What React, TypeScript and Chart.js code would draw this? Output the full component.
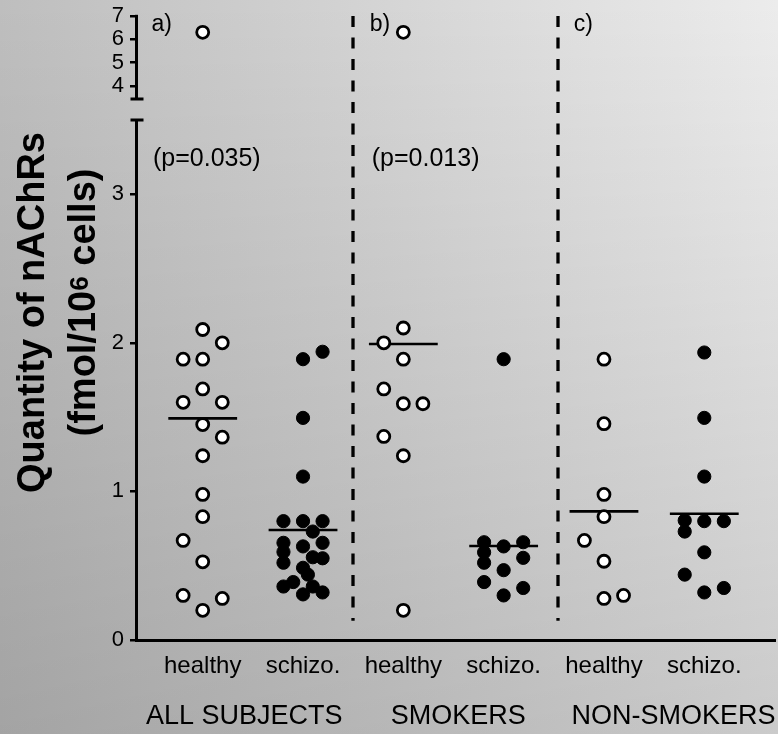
import React, { useEffect, useRef } from 'react';
import { Chart, registerables } from 'chart.js';

Chart.register(...registerables);

// ---------- data ----------
const categories = ['healthy', 'schizo.', 'healthy', 'schizo.', 'healthy', 'schizo.'];
const groupLabels = ['ALL SUBJECTS', 'SMOKERS', 'NON-SMOKERS'];
const groupTickValues = [0.415, 2.548, 4.693];
const lowerTicks = [0, 1, 2, 3];
const upperTicks = [4, 5, 6, 7];
const panelLabels = ['a)', 'b)', 'c)'];
const pValueLabels = ['(p=0.035)', '(p=0.013)'];
const titleLine1 = 'Quantity of nAChRs';
const titleLine2 = ['(fmol/10', '6', ' cells)'];

// values in fmol/10^6 cells; *Slot = jitter slot inside the column (-1 left, 0 centre, 1 right)
const healthyAll = [2.09, 2.0, 1.89, 1.89, 1.69, 1.6, 1.6, 1.45, 1.365, 1.24, 0.98, 0.83, 0.67, 0.526, 0.3, 0.28, 0.2];
const healthyAllSlot = [0, 1, -1, 0, 0, -1, 1, 0, 1, 0, 0, 0, -1, 0, -1, 1, 0];
const healthyAllHigh = [6.3];

const schizoAll = [1.89, 1.94, 1.495, 1.1, 0.8, 0.8, 0.8, 0.73, 0.654, 0.63, 0.654, 0.593, 0.557, 0.55, 0.52, 0.486, 0.44, 0.39, 0.36, 0.36, 0.32, 0.307];
const schizoAllSlot = [0, 1, 0, 0, -1, 0, 1, 0.5, -1, 0, 1, -1, 0.5, 1, -1, 0, 0.25, -0.5, -1, 0.5, 1, 0];

const healthySmokers = [2.1, 2.0, 1.89, 1.69, 1.59, 1.59, 1.37, 1.24, 0.2];
const healthySmokersSlot = [0, -1, 0, -1, 0, 1, -1, 0, 0];
const healthySmokersHigh = [6.3];

const schizoSmokers = [1.89, 0.658, 0.63, 0.658, 0.59, 0.553, 0.52, 0.47, 0.39, 0.35, 0.3];
const schizoSmokersSlot = [0, -1, 0, 1, -1, 1, -1, 0, -1, 1, 0];

const healthyNon = [1.89, 1.456, 0.98, 0.83, 0.67, 0.53, 0.3, 0.28];
const healthyNonSlot = [0, 0, 0, 0, -1, 0, 1, 0];

const schizoNon = [1.935, 1.495, 1.1, 0.805, 0.8, 0.8, 0.73, 0.59, 0.44, 0.35, 0.32];
const schizoNonSlot = [0, 0, 0, -1, 0, 1, -1, 0, -1, 1, 0];

const medians = [1.492, 0.74, 1.992, 0.633, 0.866, 0.85];

// ---------- layout / style constants ----------
const FONT = "'Liberation Sans', Arial, Helvetica, sans-serif";
const X_MIN = -0.665;
const X_MAX = 5.705;
const SLOT = 0.195;
const MEDIAN_HALF = 0.343;
const LOWER_MAX = 3.5;
const UPPER_MIN = 2.543;
const UPPER_BREAK = 3.44;
const UPPER_MAX = 7;
const SEPARATORS = [1.497, 3.54];
const SEPARATOR_BOTTOM = 0.13;
const PANEL_LABEL_X = [-0.511, 1.665, 3.7];
const PANEL_LABEL_Y = 6.61;
const PVALUE_X = [-0.496, 1.685];
const PVALUE_Y = 3.24;

type Col = { values: number[]; slots: number[]; high?: number[]; filled: boolean };
const columns: Col[] = [
  { values: healthyAll, slots: healthyAllSlot, high: healthyAllHigh, filled: false },
  { values: schizoAll, slots: schizoAllSlot, filled: true },
  { values: healthySmokers, slots: healthySmokersSlot, high: healthySmokersHigh, filled: false },
  { values: schizoSmokers, slots: schizoSmokersSlot, filled: true },
  { values: healthyNon, slots: healthyNonSlot, filled: false },
  { values: schizoNon, slots: schizoNonSlot, filled: true },
];

function pointStyle(filled: boolean) {
  return filled
    ? { backgroundColor: '#000', borderColor: '#000', borderWidth: 1, pointRadius: 6.6 }
    : { backgroundColor: '#fff', borderColor: '#000', borderWidth: 2.8, pointRadius: 6.0 };
}

function buildDatasets() {
  const ds: any[] = [];
  columns.forEach((c, i) => {
    ds.push({
      type: 'scatter',
      data: c.values.map((v, k) => ({ x: i + c.slots[k] * SLOT, y: v })),
      yAxisID: 'y',
      xAxisID: 'x',
      order: 0,
      ...pointStyle(c.filled),
    });
    if (c.high) {
      ds.push({
        type: 'scatter',
        data: c.high.map((v) => ({ x: i, y: v })),
        yAxisID: 'yTop',
        xAxisID: 'x',
        order: 0,
        ...pointStyle(c.filled),
      });
    }
  });
  medians.forEach((m, i) => {
    ds.push({
      type: 'scatter',
      showLine: true,
      data: [
        { x: i - MEDIAN_HALF, y: m },
        { x: i + MEDIAN_HALF, y: m },
      ],
      yAxisID: 'y',
      xAxisID: 'x',
      borderColor: '#000',
      borderWidth: 2.6,
      pointRadius: 0,
      order: 1,
    });
  });
  return ds;
}

const decorPlugin = {
  id: 'decor',
  beforeDatasetsDraw(chart: any) {
    const { ctx, chartArea, scales } = chart;
    ctx.save();
    ctx.strokeStyle = '#000';
    ctx.lineWidth = 3.3;
    ctx.setLineDash([11, 10.5]);
    for (const s of SEPARATORS) {
      const px = Math.round(scales.x.getPixelForValue(s));
      ctx.beginPath();
      ctx.moveTo(px, chartArea.top);
      ctx.lineTo(px, scales.y.getPixelForValue(SEPARATOR_BOTTOM));
      ctx.stroke();
    }
    ctx.restore();
  },
  afterDraw(chart: any) {
    const { ctx, chartArea, scales } = chart;
    const yTop = scales.yTop;
    const y = scales.y;
    const x = scales.x;
    ctx.save();
    // broken axis: upper segment + caps
    const ax = Math.round(chartArea.left - 1.5) + 1.5;
    ctx.strokeStyle = '#000';
    ctx.lineWidth = 3;
    ctx.lineCap = 'butt';
    const topPx = yTop.getPixelForValue(UPPER_MAX);
    const brkPx = yTop.getPixelForValue(UPPER_BREAK);
    ctx.beginPath();
    ctx.moveTo(ax, topPx - 1.2);
    ctx.lineTo(ax, brkPx);
    ctx.stroke();
    ctx.beginPath();
    ctx.moveTo(ax - 6, brkPx);
    ctx.lineTo(ax + 7, brkPx);
    const lowTop = y.getPixelForValue(LOWER_MAX);
    ctx.moveTo(ax - 6, lowTop);
    ctx.lineTo(ax + 7, lowTop);
    ctx.stroke();

    // panel labels and p-values
    ctx.fillStyle = '#000';
    ctx.textBaseline = 'middle';
    ctx.textAlign = 'left';
    ctx.font = `23px ${FONT}`;
    panelLabels.forEach((t, i) => {
      ctx.fillText(t, x.getPixelForValue(PANEL_LABEL_X[i]), yTop.getPixelForValue(PANEL_LABEL_Y));
    });
    ctx.font = `25px ${FONT}`;
    pValueLabels.forEach((t, i) => {
      ctx.fillText(t, x.getPixelForValue(PVALUE_X[i]), y.getPixelForValue(PVALUE_Y));
    });

    // y axis title (two rotated lines)
    ctx.textBaseline = 'alphabetic';
    ctx.font = `bold 38px ${FONT}`;
    ctx.save();
    ctx.translate(43.5, 312.5);
    ctx.rotate(-Math.PI / 2);
    ctx.textAlign = 'center';
    ctx.fillText(titleLine1, 0, 0);
    ctx.restore();

    ctx.save();
    ctx.translate(94.5, 302.5);
    ctx.rotate(-Math.PI / 2);
    ctx.textAlign = 'left';
    const mainFont = `bold 38px ${FONT}`;
    const supFont = `bold 26px ${FONT}`;
    ctx.font = mainFont;
    const w1 = ctx.measureText(titleLine2[0]).width;
    const w3 = ctx.measureText(titleLine2[2]).width;
    ctx.font = supFont;
    const w2 = ctx.measureText(titleLine2[1]).width;
    let cx = -(w1 + w2 + w3) / 2;
    ctx.font = mainFont;
    ctx.fillText(titleLine2[0], cx, 0);
    cx += w1;
    ctx.font = supFont;
    ctx.fillText(titleLine2[1], cx, -7);
    cx += w2;
    ctx.font = mainFont;
    ctx.fillText(titleLine2[2], cx, 0);
    ctx.restore();

    ctx.restore();
  },
};

function zeroPad(s: any) {
  s.paddingLeft = 0;
  s.paddingRight = 0;
  s.paddingTop = 0;
  s.paddingBottom = 0;
}

export default function App() {
  const ref = useRef<HTMLCanvasElement>(null);

  useEffect(() => {
    if (!ref.current) return;
    const chart = new Chart(ref.current, {
      type: 'scatter',
      data: { datasets: buildDatasets() },
      plugins: [decorPlugin],
      options: {
        animation: false,
        responsive: false,
        devicePixelRatio: 1,
        layout: { autoPadding: false, padding: { left: 100, right: 3, top: 16, bottom: 0 } },
        plugins: {
          legend: { display: false },
          tooltip: { enabled: false },
        },
        scales: {
          x: {
            type: 'linear',
            position: 'bottom',
            min: X_MIN,
            max: X_MAX,
            afterBuildTicks: (s: any) => {
              s.ticks = categories.map((_, i) => ({ value: i }));
            },
            ticks: {
              callback: (_v: any, i: number) => categories[i] ?? '',
              color: '#000',
              font: { family: FONT, size: 24 },
              padding: 11.6,
              autoSkip: false,
              maxRotation: 0,
            },
            grid: { display: false, drawTicks: false },
            border: { display: true, width: 3, color: '#000' },
            afterFit: (s: any) => {
              s.height = 52;
              zeroPad(s);
            },
          },
          x2: {
            type: 'linear',
            position: 'bottom',
            min: X_MIN,
            max: X_MAX,
            afterBuildTicks: (s: any) => {
              s.ticks = groupTickValues.map((v) => ({ value: v }));
            },
            ticks: {
              callback: (_v: any, i: number) => groupLabels[i] ?? '',
              color: '#000',
              font: { family: FONT, size: 27 },
              padding: 8.8,
              autoSkip: false,
              maxRotation: 0,
            },
            grid: { display: false, drawTicks: false },
            border: { display: false },
            afterFit: (s: any) => {
              s.height = 42;
              zeroPad(s);
            },
          },
          y: {
            type: 'linear',
            position: 'left',
            stack: 'v',
            stackWeight: 5,
            weight: 0,
            min: 0,
            max: LOWER_MAX,
            afterBuildTicks: (s: any) => {
              s.ticks = lowerTicks.map((v) => ({ value: v }));
            },
            ticks: {
              color: '#000',
              font: { family: FONT, size: 22 },
              padding: 6,
              autoSkip: false,
            },
            grid: { drawOnChartArea: false, drawTicks: true, tickLength: 6, lineWidth: 2.5, color: '#000' },
            border: { display: true, width: 3, color: '#000' },
            afterFit: (s: any) => {
              s.width = 36;
              zeroPad(s);
            },
          },
          yTop: {
            type: 'linear',
            position: 'left',
            stack: 'v',
            stackWeight: 1,
            weight: 1,
            min: UPPER_MIN,
            max: UPPER_MAX,
            afterBuildTicks: (s: any) => {
              s.ticks = upperTicks.map((v) => ({ value: v }));
            },
            ticks: {
              color: '#000',
              font: { family: FONT, size: 22 },
              padding: 6,
              autoSkip: false,
            },
            grid: { drawOnChartArea: false, drawTicks: true, tickLength: 6, lineWidth: 2.5, color: '#000' },
            border: { display: false },
            afterFit: (s: any) => {
              s.width = 36;
              zeroPad(s);
            },
          },
        },
      } as any,
    });
    return () => chart.destroy();
  }, []);

  return (
    <div
      style={{
        position: 'fixed',
        left: 0,
        top: 0,
        width: 778,
        height: 734,
        background:
          'linear-gradient(to bottom, rgba(0,0,0,0) 0%, rgba(0,0,0,0.14) 100%), linear-gradient(to right, #bebebe 0%, #ececec 100%)',
      }}
    >
      <canvas ref={ref} width={778} height={734} style={{ display: 'block' }} />
    </div>
  );
}
